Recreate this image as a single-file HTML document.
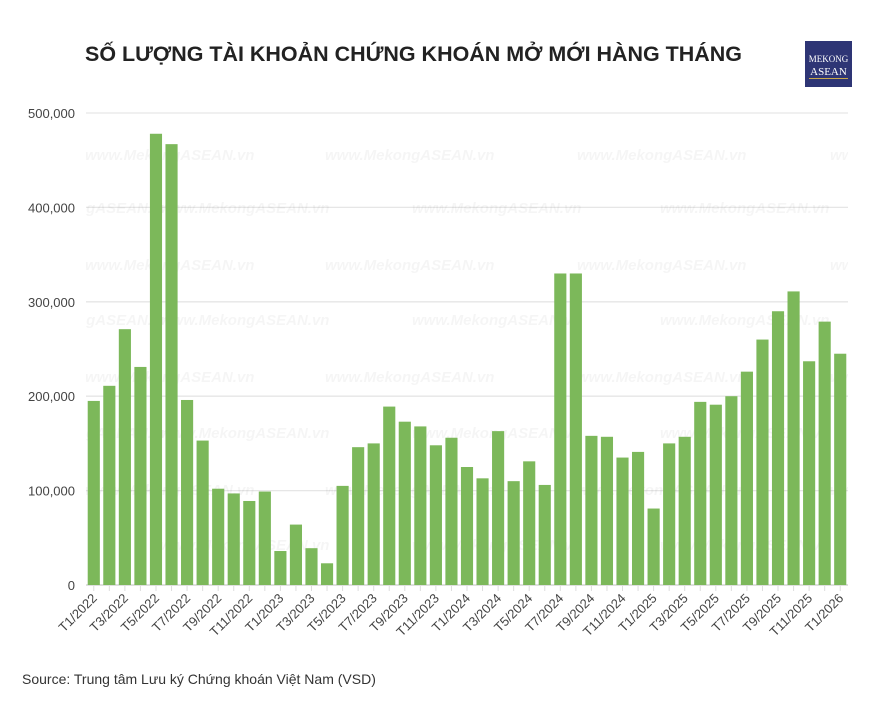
<!DOCTYPE html>
<html><head><meta charset="utf-8"><style>
body{margin:0;background:#fff;width:890px;height:707px;overflow:hidden;font-family:"Liberation Sans",sans-serif}
</style></head><body>
<svg width="890" height="707" id="svg" xmlns="http://www.w3.org/2000/svg">
<defs><clipPath id="pc"><rect x="86" y="100" width="762" height="490"/></clipPath></defs>
<text x="85" y="61" font-size="21" font-weight="bold" fill="#222" textLength="657" lengthAdjust="spacingAndGlyphs">SỐ LƯỢNG TÀI KHOẢN CHỨNG KHOÁN MỞ MỚI HÀNG THÁNG</text>
<g>
<rect x="805" y="41" width="47" height="46" fill="#2e3575"/>
<text x="828.5" y="62" font-size="9" fill="#fff" text-anchor="middle" font-family="Liberation Serif,serif">MEKONG</text>
<text x="828.5" y="75" font-size="11" fill="#fff" text-anchor="middle" font-family="Liberation Serif,serif">ASEAN</text>
<rect x="809" y="78" width="39" height="1" fill="#c9a84a"/>
</g>
<g id="grid"></g><g id="wm" clip-path="url(#pc)"></g><g id="bars"></g><g id="xl"></g>
<text x="22" y="684" font-size="14" fill="#333">Source: Trung tâm Lưu ký Chứng khoán Việt Nam (VSD)</text>
</svg>
<script>
const values=[195,211,271,231,478,467,196,153,102,97,89,99,36,64,39,23,105,146,150,189,173,168,148,156,125,113,163,110,131,106,330,330,158,157,135,141,81,150,157,194,191,200,226,260,290,311,237,279,245].map(v=>v*1000);
const yTicks=[0,100000,200000,300000,400000,500000];
const months=[];for(let y=2022;y<=2026;y++)for(let m=1;m<=12;m++)months.push('T'+m+'/'+y);
const categories=months.slice(0,49);
const NS='http://www.w3.org/2000/svg';
const x0=86,x1=848,y0=585,y1=113;
const step=(x1-x0)/categories.length;
const ys=v=>y0-(v/500000)*(y0-y1);
const xs=i=>x0+step*i+step/2;
function mk(t,a,p){const e=document.createElementNS(NS,t);for(const k in a)e.setAttribute(k,a[k]);p.appendChild(e);return e;}
const grid=document.getElementById('grid');
yTicks.forEach(t=>{
 const l=mk('line',{x1:x0,x2:x1,y1:ys(t),y2:ys(t),stroke:t===0?'#ccc':'#e6e6e6','stroke-width':1.3},grid);
 
 
 const tx=mk('text',{x:75,y:ys(t)+5,'font-size':13,fill:'#444','text-anchor':'end'},grid);
 tx.textContent=t.toLocaleString('en-US');
 
 
});
const wm=document.getElementById('wm');
[[85,160],[325,160],[577,160],[830,160],[0,213],[160,213],[412,213],[660,213],[85,270],[325,270],[577,270],[830,270],[0,325],[160,325],[412,325],[660,325],[85,382],[325,382],[577,382],[830,382],[0,438],[160,438],[412,438],[660,438],[85,495],[325,495],[577,495],[830,495],[160,550],[412,550],[660,550]].forEach(p=>{
 const t=mk('text',{x:p[0],y:p[1],'font-size':15,'font-weight':'bold','font-style':'italic',fill:'#000','fill-opacity':0.04},wm);
 t.textContent='www.MekongASEAN.vn';
 
 
});
const bars=document.getElementById('bars'),xl=document.getElementById('xl');
const bw=step*0.78;
values.forEach((v,i)=>{
 const r=mk('rect',{x:xs(i)-bw/2,y:ys(v),width:bw,height:y0-ys(v),fill:'#7cb85a'},bars);
 
 
 const tk=mk('line',{x1:xs(i),x2:xs(i),y1:y0+1,y2:y0+6,stroke:'#ddd'},xl);
 
 
 if(i%2===0){
  const t=mk('text',{x:xs(i)+4,y:y0+14,'font-size':13,fill:'#444','text-anchor':'end',transform:'rotate(-45 '+(xs(i)+4)+' '+(y0+14)+')'},xl);
  t.textContent=categories[i];
  
  
 }
});
</script>
</body></html>
